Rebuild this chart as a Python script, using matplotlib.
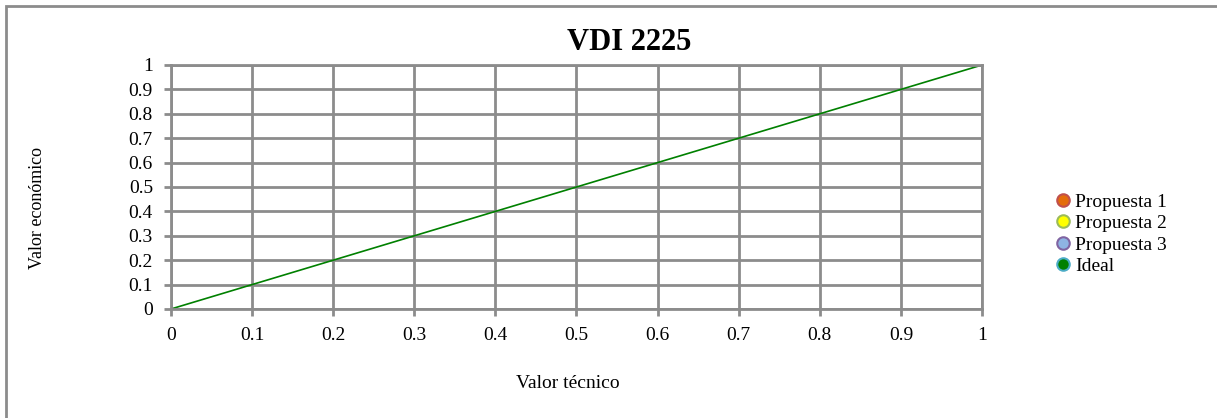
import matplotlib.pyplot as plt
import numpy as np
from matplotlib.patches import Rectangle

plt.rcParams['font.family'] = ['Liberation Serif', 'DejaVu Serif']

# series
ideal_x = [0, 1]
ideal_y = [0, 1]
propuestas = ['Propuesta 1', 'Propuesta 2', 'Propuesta 3']
prop_x = [[], [], []]
prop_y = [[], [], []]
prop_colors = ['#E46C0A', '#FFFF00', '#8EB4E3']
prop_edges = ['#C0504D', '#9BBB59', '#8064A2']
ticks = np.round(np.arange(0, 1.01, 0.1), 1)
tick_labels = ['0', '0.1', '0.2', '0.3', '0.4', '0.5', '0.6', '0.7', '0.8', '0.9', '1']

fig = plt.figure(figsize=(12.17, 4.18), dpi=100)
ax = fig.add_axes([0.1405, 0.2608, 0.8069 - 0.1405, 0.8445 - 0.2608])

for name, xs, ys, c, ec in zip(propuestas, prop_x, prop_y, prop_colors, prop_edges):
    ax.plot(xs, ys, 'o', color=c, markeredgecolor=ec, markersize=9,
            markeredgewidth=1.5, label=name)
ax.plot(ideal_x, ideal_y, color='#008000', linewidth=1.2)
ax.plot([], [], 'o', color='#008000', markeredgecolor='#4BACC6', markersize=9,
        markeredgewidth=1.5, label='Ideal')

ax.set_xlim(0, 1)
ax.set_ylim(0, 1)
ax.set_xticks(ticks)
ax.set_yticks(ticks)
ax.set_xticklabels(tick_labels, fontsize=14)
ax.set_yticklabels(tick_labels, fontsize=14)
ax.grid(True, color='#8c8c8c', linewidth=2)
ax.set_axisbelow(True)
for s in ax.spines.values():
    s.set_color('#8c8c8c')
    s.set_linewidth(2)
ax.tick_params(colors='#8c8c8c', labelcolor='black', length=5, width=2)
ax.tick_params(axis='x', pad=8)
ax.tick_params(axis='y', pad=8)

fig.text(629 / 1217, 1 - 43 / 418, 'VDI 2225', fontsize=22, fontweight='bold',
         ha='center', va='center')
fig.text(38 / 1217, 1 - 208 / 418, 'Valor económico', fontsize=13,
         rotation=90, ha='center', va='center')
fig.text(568 / 1217, 1 - 383 / 418, 'Valor técnico', fontsize=14,
         ha='center', va='center')

fig.legend(loc='center left', bbox_to_anchor=(1042 / 1217, 1 - 234 / 418),
           frameon=False, fontsize=14, handletextpad=0.0, labelspacing=0.2,
           handlelength=1.2, borderpad=0)

fig.patches.append(Rectangle((6 / 1217, -0.1), 1.2, 1 - 6 / 418 + 0.1,
                             transform=fig.transFigure, fill=False,
                             edgecolor='#8c8c8c', linewidth=2))

plt.savefig('out.png', dpi=100)
